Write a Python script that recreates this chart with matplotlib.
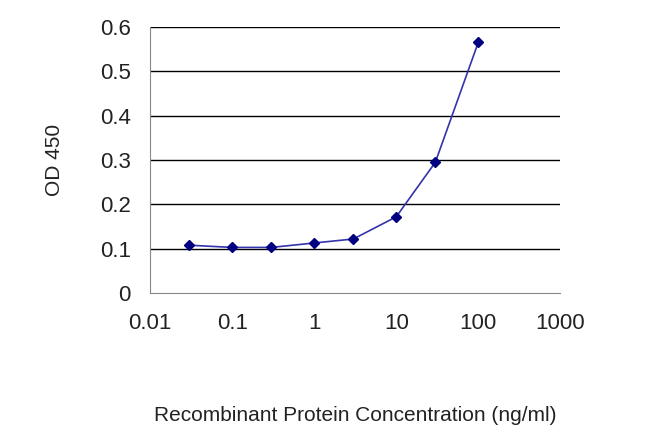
import matplotlib
matplotlib.use("Agg")
import matplotlib.pyplot as plt

plt.rcParams['font.family'] = ['Liberation Sans', 'DejaVu Sans']

conc = [0.03, 0.1, 0.3, 1, 3, 10, 30, 100]
od = [0.108, 0.103, 0.103, 0.113, 0.122, 0.172, 0.295, 0.565]
xticks = [0.01, 0.1, 1, 10, 100, 1000]
xticklabels = ["0.01", "0.1", "1", "10", "100", "1000"]
yticks = [0, 0.1, 0.2, 0.3, 0.4, 0.5, 0.6]

fig = plt.figure(figsize=(6.5, 4.33), dpi=100)
ax = fig.add_axes([0.231, 0.323, 0.631, 0.615])
ax.set_xscale("log")
ax.set_xlim(0.01, 1000)
ax.set_ylim(0, 0.6)
for y in yticks[1:]:
    ax.axhline(y, color="black", lw=1)
ax.plot(conc, od, color="#3333aa", lw=1.2, marker="D", ms=5,
        markerfacecolor="#000080", markeredgecolor="#000080")
ax.set_xticks(xticks)
ax.set_xticklabels(xticklabels)
ax.minorticks_off()
ax.set_yticks(yticks)
ax.set_yticklabels(["0", "0.1", "0.2", "0.3", "0.4", "0.5", "0.6"])
ax.tick_params(labelsize=16, colors="#222222", length=0, pad=14)
for s in ["top", "right"]:
    ax.spines[s].set_visible(False)
ax.spines["left"].set_color("#888888")
ax.spines["bottom"].set_color("#888888")
ax.set_ylabel("OD 450", fontsize=15, color="#222222", labelpad=26)
ax.set_xlabel("Recombinant Protein Concentration (ng/ml)", fontsize=15,
              color="#222222", labelpad=52)
fig.savefig("out.png", dpi=100)
